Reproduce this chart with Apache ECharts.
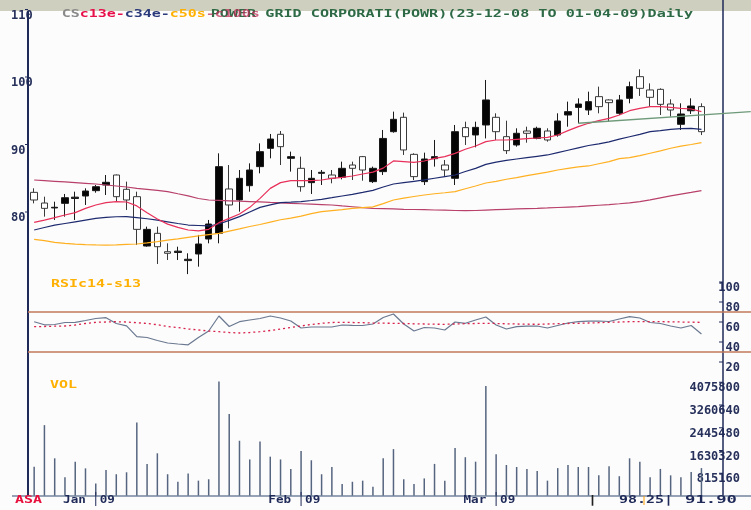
<!DOCTYPE html>
<html>
<head>
<meta charset="utf-8">
<script src="https://cdn.jsdelivr.net/npm/echarts@6/dist/echarts.min.js"></script>
<style>
  html, body { margin: 0; padding: 0; background: #fcfcfd; }
  #main { width: 751px; height: 510px; }
</style>
</head>
<body>
<div id="main"></div>
<script>
// POWER GRID daily, 23-12-08 .. 01-04-09 (66 sessions)
const opens  = [82.91,81.33,80.6,81.28,82.0,82.37,83.16,84.0,85.48,83.36,82.27,74.96,76.84,74.12,74.0,72.8,73.78,76.0,76.84,83.41,81.78,83.9,86.72,89.43,91.51,87.95,86.47,84.35,85.73,85.48,85.14,86.96,88.2,84.5,85.98,91.9,94.03,88.54,84.5,87.9,86.96,84.99,92.5,91.41,92.89,94.03,91.16,89.93,92.0,90.9,92.0,91.41,94.37,95.5,95.11,97.09,96.6,94.62,96.84,100.05,98.08,98.17,96.0,92.99,95.0,95.61];
const closes = [81.78,80.54,80.7,82.12,82.2,83.11,83.75,84.4,82.27,81.78,77.43,77.43,74.86,73.88,74.2,73.0,75.26,78.22,86.72,81.04,84.99,86.22,88.94,90.81,89.68,88.2,83.75,84.99,85.88,84.99,86.47,86.47,86.22,86.47,90.9,93.73,89.19,85.24,87.85,88.2,86.22,91.9,91.16,92.54,96.6,91.9,89.09,91.66,91.66,92.4,90.67,93.48,94.87,96.0,96.35,95.61,96.2,96.6,98.57,98.32,96.99,95.95,95.11,94.52,95.7,91.9];
const lows   = [81.28,79.31,78.82,79.31,78.82,81.04,82.86,82.52,81.53,80.3,75.11,74.86,72.3,72.89,72.89,70.8,71.9,75.36,75.36,77.58,80.05,83.01,85.73,87.95,86.96,85.98,83.01,82.67,84.0,84.25,84.84,84.74,84.64,84.3,85.48,91.75,88.45,84.74,84.0,86.72,85.24,84.0,89.93,89.58,90.9,90.67,88.6,89.68,90.27,90.77,90.42,91.16,92.64,93.14,94.37,94.62,93.4,94.37,96.1,97.19,95.61,94.37,94.13,92.15,94.52,91.4];
const highs  = [83.51,82.27,81.53,82.67,83.01,83.51,84.0,85.48,85.55,84.5,83.01,77.83,77.83,75.36,74.86,73.88,76.6,78.82,88.69,86.96,86.22,87.21,90.17,91.56,92.0,88.94,88.2,86.22,86.22,86.22,87.46,87.46,88.3,86.72,92.15,94.87,94.72,88.7,88.79,90.67,87.7,92.89,93.38,93.38,99.56,94.62,93.53,92.4,92.64,92.64,92.4,94.62,96.35,96.84,97.83,98.57,96.7,97.34,99.31,101.14,99.06,98.32,96.7,96.1,96.84,96.1];

const ema13  = [78.47,78.8,79.16,79.56,79.9,80.54,81.04,81.38,81.53,81.48,80.9,79.9,78.96,78.2,77.73,77.33,77.19,77.43,78.42,79.06,79.7,80.69,82.02,83.5,84.35,84.64,84.64,84.64,84.74,84.99,85.14,85.33,85.63,85.9,86.5,87.56,87.46,87.36,87.56,87.95,88.2,88.69,89.29,89.78,90.42,90.67,90.67,90.77,90.87,90.96,91.06,91.41,92.05,92.64,93.14,93.53,93.88,94.37,95.01,95.36,95.61,95.61,95.51,95.36,95.26,94.87];
const ema34  = [77.33,77.7,78.05,78.3,78.55,78.8,79.05,79.2,79.3,79.31,79.16,79.0,78.8,78.55,78.3,78.07,78.0,77.93,78.22,78.75,79.31,80.0,80.69,81.05,81.38,81.45,81.53,81.7,81.88,82.12,82.37,82.62,82.9,83.2,83.7,84.15,84.35,84.55,84.75,85.0,85.25,85.48,86.0,86.47,87.05,87.4,87.65,87.85,88.05,88.25,88.45,88.8,89.15,89.5,89.85,90.1,90.4,90.8,91.15,91.5,91.9,92.05,92.25,92.35,92.4,92.25];
const sma50  = [75.95,75.75,75.5,75.35,75.25,75.18,75.12,75.1,75.12,75.2,75.26,75.42,75.6,75.82,76.03,76.25,76.45,76.65,76.84,77.17,77.5,77.85,78.15,78.5,78.85,79.1,79.4,79.75,80.05,80.2,80.35,80.55,80.65,80.75,81.25,81.78,82.05,82.3,82.52,82.7,82.85,83.01,83.45,83.85,84.3,84.55,84.85,85.1,85.4,85.65,85.9,86.22,86.45,86.68,86.82,87.15,87.46,87.9,88.05,88.35,88.7,89.05,89.44,89.75,90.0,90.27];
const sma100 = [84.74,84.65,84.55,84.45,84.35,84.25,84.15,84.0,83.85,83.7,83.5,83.35,83.2,83.01,82.7,82.4,82.0,81.78,81.72,81.66,81.6,81.55,81.5,81.42,81.35,81.28,81.22,81.16,81.1,81.04,80.9,80.78,80.66,80.54,80.5,80.45,80.4,80.37,80.34,80.3,80.27,80.22,80.2,80.22,80.28,80.34,80.4,80.45,80.5,80.54,80.6,80.67,80.73,80.79,80.9,81.0,81.1,81.22,81.35,81.55,81.8,82.1,82.4,82.65,82.9,83.16];

const rsi       = [60.3,57.2,57.5,59.5,59.7,61.5,63.5,64.3,58.5,56.2,45.3,44.5,41.5,39,38,37.2,44.5,51,66,55.5,60.3,62,63.5,66,64,61,54,55,55,55,57,56.7,56.5,58,64.5,68,58,51,54.5,54,52,60,58.7,62,65,57,53,55.3,55.8,56,54,56.5,59,60.3,60.8,61,60.5,63,65.3,64,59.5,58.5,56,54,56.5,48];
const rsiSignal = [55.3,55.5,55.8,56,57,58.5,59.7,60,60.3,60,59.3,58.5,57.3,55.5,54.5,53,52,51,50.3,49.5,49,49.5,50.3,51.5,53,54.5,56,57.5,58.7,59.5,59.7,59.5,59.3,59,58.8,58.7,58.5,58.2,58,57.8,57.7,58,58.3,58.5,58.7,58.5,58.2,58,57.8,57.7,58,58.3,58.5,58.7,59,59.3,59.7,60,60.3,60.3,60.3,60.3,60.2,60,59.8,59.7];

const volume = [1050000,2540000,1350000,670000,1230000,990000,450000,930000,780000,850000,2630000,1150000,1530000,780000,510000,810000,550000,600000,4100000,2940000,1980000,1310000,1950000,1410000,1310000,970000,1610000,1280000,780000,1040000,430000,510000,550000,330000,1350000,1680000,600000,430000,630000,1150000,550000,1720000,1390000,1230000,3940000,1500000,1110000,1040000,970000,900000,550000,1000000,1110000,1040000,1040000,740000,1070000,710000,1350000,1230000,670000,970000,740000,670000,860000,1000000];

const priceTicks = [80, 90, 100, 110];
const rsiTicks = [20, 40, 60, 80, 100];
const volTicks = [815160, 1630320, 2445480, 3260640, 4075800];
const rsiBands = [70, 30];
const trendX = [53, 69.8];
const trendY = [93.15, 94.87];
const months = ['Jan', 'Feb', 'Mar'];
const monthStart = [6, 26, 45];

const NAVY = '#1f2a58';
const chart = echarts.init(document.getElementById('main'));
const idx = opens.map((_, i) => i);
const pairs = arr => arr.map((v, i) => [i, v]);

const axisFont = { fontFamily: 'DejaVu Sans Mono', fontWeight: 'bold', fontSize: 12, color: '#26305a' };
const xAx = g => ({ type: 'value', gridIndex: g, min: -0.6, max: 67.1, show: false });
const line = (data, color, g, extra) => Object.assign({
  type: 'line', xAxisIndex: g, yAxisIndex: g, data: pairs(data), symbol: 'none',
  lineStyle: { color: color, width: 1.2 }, z: 3, silent: true
}, extra || {});
const rightAxis = (g, max, ticks) => ({
  gridIndex: g, type: 'value', min: 0, max: max, position: 'right',
  splitLine: { show: false }, axisLine: { show: false }, axisTick: { show: false },
  axisLabel: Object.assign({ customValues: ticks, margin: 17, align: 'right', verticalAlign: 'top',
    formatter: v => String(v) }, axisFont)
});

chart.setOption({
  animation: false,
  backgroundColor: '#fcfcfd',
  grid: [
    { left: 28, width: 695, top: 9.5, height: 270 },
    { left: 28, width: 695, top: 282, height: 100 },
    { left: 28, width: 695, top: 359.5, height: 136.5 }
  ],
  xAxis: [xAx(0), xAx(1), xAx(2)],
  yAxis: [
    {
      gridIndex: 0, type: 'value', min: 70, max: 110, position: 'left',
      splitLine: { show: false }, axisLine: { show: false }, axisTick: { show: false },
      axisLabel: Object.assign({ customValues: priceTicks, margin: 17, align: 'left', verticalAlign: 'top' }, axisFont)
    },
    rightAxis(1, 100, rsiTicks),
    rightAxis(2, 4890960, volTicks)
  ],
  series: [
    {
      type: 'candlestick', xAxisIndex: 0, yAxisIndex: 0, barWidth: 7,
      data: idx.map(i => [i, opens[i], closes[i], lows[i], highs[i]]),
      encode: { x: 0, y: [1, 2, 3, 4] },
      itemStyle: { color: '#050505', color0: '#ffffff', borderColor: '#1a1a1a', borderColor0: '#3a3a3a', borderWidth: 1 },
      z: 2, silent: true
    },
    line(sma100, '#b8406a', 0),
    line(sma50, '#ffb020', 0),
    line(ema34, '#1e2a6e', 0),
    line(ema13, '#e8305a', 0),
    line(rsi, '#6a7890', 1),
    line(rsiSignal, '#d8204a', 1, { lineStyle: { color: '#d8204a', width: 1.3, type: [2, 3] } }),
    {
      type: 'bar', xAxisIndex: 2, yAxisIndex: 2, barWidth: 1.5,
      data: pairs(volume), itemStyle: { color: '#56657f' }, silent: true
    }
  ]
});

// bitmap-like wide monospace text
const FS = 10.5;
function txt(text, x, y, color, charW, align) {
  const sx = (charW || 9) / (0.602 * FS);
  return {
    type: 'text', x: x, y: y, scaleX: sx, silent: true, z: 100,
    style: {
      text: text, fill: color, font: 'bold ' + FS + 'px "DejaVu Sans Mono"',
      align: align || 'left', verticalAlign: 'middle',
      textAlign: align || 'left', textVerticalAlign: 'middle'
    }
  };
}
function seg(x1, y1, x2, y2, color, w) {
  return { type: 'line', silent: true, z: 90, shape: { x1: x1, y1: y1, x2: x2, y2: y2 }, style: { stroke: color, lineWidth: w } };
}

const g = [];
g.push({ type: 'rect', silent: true, z: 0, shape: { x: 0, y: 0, width: 751, height: 11 }, style: { fill: '#cfcfbf' } });
g.push(seg(28, 11, 28, 496, NAVY, 2));
g.push(seg(723, 0, 723, 496, NAVY, 1.5));
g.push(seg(12, 496, 751, 496, '#75859c', 1.5));

// axis ticks
priceTicks.forEach(v => {
  const y = chart.convertToPixel({ gridIndex: 0 }, [0, v])[1];
  g.push(seg(25, y, 28, y, NAVY, 1));
});
rsiTicks.forEach(v => {
  const y = chart.convertToPixel({ gridIndex: 1 }, [0, v])[1];
  g.push(seg(719, y, 723, y, NAVY, 1));
});
volTicks.forEach(v => {
  const y = chart.convertToPixel({ gridIndex: 2 }, [0, v])[1];
  g.push(seg(719, y, 723, y, NAVY, 1));
});

// RSI bands across full width
rsiBands.forEach(v => {
  const y = chart.convertToPixel({ gridIndex: 1 }, [0, v])[1];
  g.push(seg(28, y, 751, y, '#c27a58', 1.5));
});

// trend line
const t0 = chart.convertToPixel({ gridIndex: 0 }, [trendX[0], trendY[0]]);
const t1 = chart.convertToPixel({ gridIndex: 0 }, [trendX[1], trendY[1]]);
g.push(seg(t0[0], t0[1], t1[0], t1[1], '#6f9a7a', 1.4));

// title
const titleParts = [['CS', '#8a8a8a'], ['c13e-', '#e8104a'], ['c34e-', '#2a3a7a'], ['c50s', '#ffb000']];
let off = 0;
titleParts.forEach(p => { g.push(txt(p[0], 61.7 + off * 9, 14, p[1])); off += p[0].length; });
g.push(txt('POWER GRID CORPORATI(POWR)(23-12-08 TO 01-04-09)Daily', 210.7, 14, '#2d6a45', 9.1));
g.push(txt('-c100s', 61.7 + off * 9, 14, 'rgba(192,48,90,0.75)'));

g.push(txt('RSIc14-s13', 51, 284.5, '#ffb000'));
g.push(txt('VOL', 50, 385.5, '#ffb000'));

// bottom labels
g.push(txt('ASA', 15, 500.5, '#e8103c'));
months.forEach((m, k) => {
  const x = chart.convertToPixel({ gridIndex: 2 }, [monthStart[k], 0])[0];
  g.push(txt(m, x - 32.7, 500.5, NAVY, 7.6));
  g.push(seg(x, 492, x, 506, NAVY, 1));
  g.push(txt('09', x + 4, 500.5, NAVY, 7.6));
});
g.push(txt('|', 588, 500.5, '#202020'));
g.push(txt('98.25|', 619, 500.5, NAVY));
g.push(seg(644, 496, 644, 505, '#ffa000', 1));
g.push(txt('91.90', 685, 500.5, NAVY, 10.4));

chart.setOption({ graphic: g });
</script>
</body>
</html>
